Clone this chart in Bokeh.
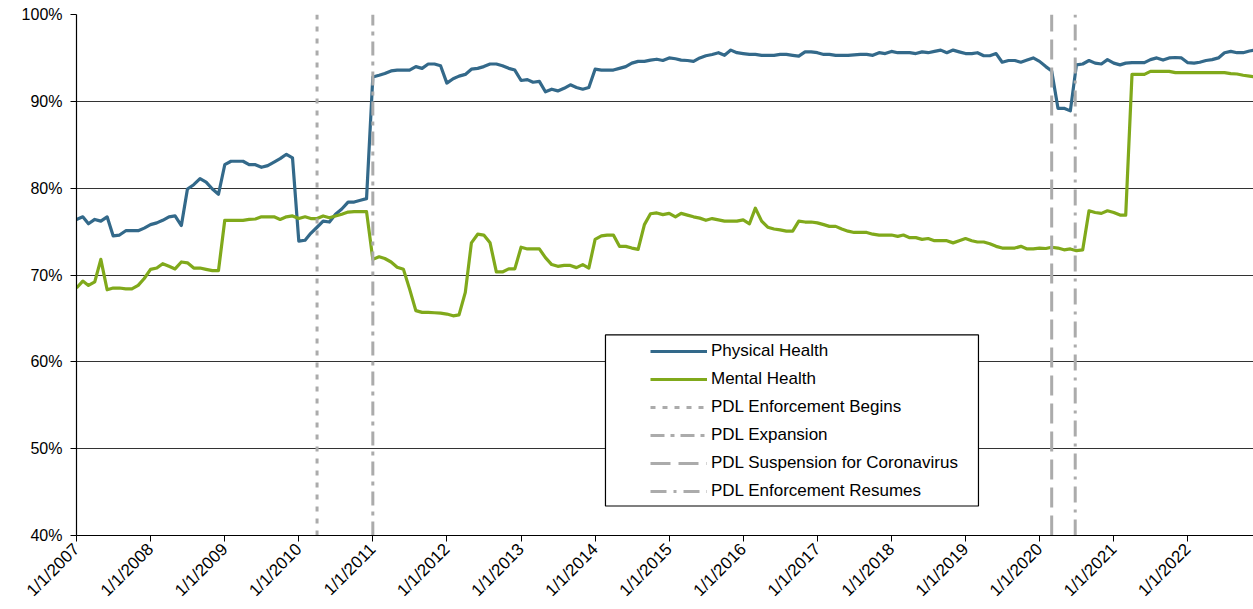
import math
import pandas as pd
from bokeh.plotting import figure
from bokeh.models import (Range1d, FixedTicker, CustomJSTickFormatter, PrintfTickFormatter,
                          Legend, LegendItem, BoxAnnotation)
from bokeh.embed import file_html
from bokeh.resources import INLINE

# ---------------- data (monthly, starting Jan 2007) ----------------
start_month = "2007-01-01"

physical_health = [
    76.4, 76.7, 75.9, 76.4, 76.2, 76.7, 74.5, 74.6, 75.1, 75.1, 75.1, 75.4,   # 2007
    75.8, 76.0, 76.3, 76.7, 76.8, 75.7, 79.9, 80.4, 81.1, 80.7, 79.9, 79.3,   # 2008
    82.7, 83.1, 83.1, 83.1, 82.7, 82.7, 82.4, 82.6, 83.0, 83.4, 83.9, 83.5,   # 2009
    73.9, 74.0, 74.8, 75.5, 76.2, 76.1, 77.0, 77.6, 78.4, 78.4, 78.6, 78.8,   # 2010
    92.8, 93.0, 93.2, 93.5, 93.6, 93.6, 93.6, 94.0, 93.8, 94.3, 94.3, 94.1,   # 2011
    92.1, 92.6, 92.9, 93.1, 93.7, 93.8, 94.0, 94.3, 94.3, 94.1, 93.8, 93.6,   # 2012
    92.4, 92.5, 92.2, 92.3, 91.1, 91.4, 91.2, 91.5, 91.9, 91.6, 91.4, 91.6,   # 2013
    93.7, 93.6, 93.6, 93.6, 93.8, 94.0, 94.4, 94.6, 94.6, 94.75, 94.85, 94.7, # 2014
    95.0, 94.9, 94.75, 94.7, 94.6, 95.0, 95.25, 95.4, 95.6, 95.3, 95.9, 95.6, # 2015
    95.5, 95.4, 95.4, 95.3, 95.3, 95.3, 95.4, 95.4, 95.3, 95.2, 95.7, 95.7,   # 2016
    95.6, 95.4, 95.4, 95.3, 95.3, 95.3, 95.35, 95.4, 95.4, 95.3, 95.6, 95.5,  # 2017
    95.75, 95.6, 95.6, 95.6, 95.5, 95.7, 95.6, 95.75, 95.9, 95.6, 95.9, 95.7, # 2018
    95.5, 95.5, 95.6, 95.25, 95.25, 95.5, 94.5, 94.7, 94.7, 94.5, 94.75, 95.0, # 2019
    94.6, 94.0, 93.5, 89.2, 89.2, 88.9, 94.2, 94.3, 94.7, 94.4, 94.3, 94.8,   # 2020
    94.4, 94.2, 94.4, 94.45, 94.45, 94.45, 94.8, 95.0, 94.75, 95.0, 95.05, 95.0, # 2021
    94.45, 94.4, 94.5, 94.7, 94.8, 95.0, 95.6, 95.75, 95.6, 95.6, 95.8, 95.9, # 2022
]

mental_health = [
    68.5, 69.3, 68.8, 69.2, 71.8, 68.3, 68.5, 68.5, 68.4, 68.4, 68.8, 69.6,   # 2007
    70.65, 70.8, 71.3, 71.0, 70.7, 71.5, 71.4, 70.8, 70.8, 70.65, 70.5, 70.5, # 2008
    76.3, 76.3, 76.3, 76.3, 76.4, 76.45, 76.7, 76.7, 76.7, 76.4, 76.7, 76.8,  # 2009
    76.5, 76.7, 76.5, 76.5, 76.8, 76.6, 76.8, 77.0, 77.25, 77.3, 77.3, 77.3,  # 2010
    71.8, 72.1, 71.9, 71.5, 70.9, 70.65, 68.4, 65.9, 65.7, 65.7, 65.65, 65.6, # 2011
    65.5, 65.3, 65.4, 68.0, 73.7, 74.7, 74.6, 73.7, 70.35, 70.35, 70.7, 70.7, # 2012
    73.2, 73.0, 73.0, 73.0, 72.0, 71.2, 71.0, 71.1, 71.1, 70.85, 71.2, 70.8,  # 2013
    74.1, 74.5, 74.6, 74.6, 73.3, 73.3, 73.1, 72.95, 75.8, 77.05, 77.15, 76.95, # 2014
    77.1, 76.7, 77.1, 76.9, 76.7, 76.55, 76.3, 76.5, 76.35, 76.2, 76.2, 76.2, # 2015
    76.35, 75.9, 77.7, 76.2, 75.5, 75.3, 75.2, 75.05, 75.05, 76.2, 76.1, 76.1, # 2016
    76.0, 75.8, 75.6, 75.6, 75.3, 75.05, 74.9, 74.9, 74.9, 74.7, 74.6, 74.6,  # 2017
    74.6, 74.45, 74.6, 74.3, 74.3, 74.1, 74.2, 73.95, 73.95, 73.95, 73.7, 73.95, # 2018
    74.2, 73.95, 73.8, 73.8, 73.6, 73.3, 73.1, 73.1, 73.1, 73.3, 73.0, 73.0,  # 2019
    73.1, 73.05, 73.2, 73.1, 72.9, 73.0, 72.8, 72.9, 77.4, 77.2, 77.1, 77.4,  # 2020
    77.2, 76.9, 76.9, 93.1, 93.1, 93.1, 93.45, 93.45, 93.45, 93.45, 93.3, 93.3, # 2021
    93.3, 93.3, 93.3, 93.3, 93.3, 93.3, 93.3, 93.2, 93.15, 93.0, 92.9, 92.8,  # 2022
]

tick_years = list(range(2007, 2023))
y_ticks = [40, 50, 60, 70, 80, 90, 100]

event_names = ["PDL Enforcement Begins", "PDL Expansion",
               "PDL Suspension for Coronavirus", "PDL Enforcement Resumes"]
event_dates = ["2010-04-01", "2011-01-01", "2020-03-01", "2020-06-25"]

# ---------------- styles ----------------
BLUE = "#33698A"
GREEN = "#80A91B"
GREY = "#ABABAB"
event_dashes = ["5 7", "14 6 4 6", "20 8", "16 7 3 7"]
FONT = "Liberation Sans"

def ms(d):
    return pd.Timestamp(d).timestamp() * 1000.0

months = pd.date_range(start_month, periods=len(physical_health), freq="MS")

p = figure(
    x_axis_type="datetime",
    frame_width=1177, frame_height=521,
    min_border_left=76, min_border_right=0, min_border_top=14, min_border_bottom=73,
    x_range=Range1d(ms("2007-01-01"), ms("2022-11-21")),
    y_range=Range1d(y_ticks[0], y_ticks[-1]),
    output_backend="svg", toolbar_location=None,
    background_fill_color="white", border_fill_color="white",
)
p.outline_line_color = None

# grid
p.xgrid.visible = False
p.ygrid.ticker = FixedTicker(ticks=y_ticks)
p.ygrid.grid_line_color = "#333333"
p.ygrid.grid_line_width = 1.2

# axes
p.xaxis.ticker = FixedTicker(ticks=[ms(f"{y}-01-01") for y in tick_years])
p.xaxis.formatter = CustomJSTickFormatter(code="""
    const d = new Date(tick);
    return (d.getUTCMonth() + 1) + "/" + d.getUTCDate() + "/" + d.getUTCFullYear();
""")
p.xaxis.major_label_orientation = math.pi / 4
p.yaxis.ticker = FixedTicker(ticks=y_ticks)
p.yaxis.formatter = PrintfTickFormatter(format="%d%%")
for ax in (p.xaxis, p.yaxis):
    ax.axis_line_color = "black"
    ax.axis_line_width = 1.2
    ax.major_tick_line_color = "black"
    ax.major_tick_in = 0
    ax.major_tick_out = 6
    ax.minor_tick_line_color = None
    ax.major_label_text_font = FONT
    ax.major_label_text_color = "black"
p.xaxis.major_label_text_font_size = "17px"
p.yaxis.major_label_text_font_size = "16px"
p.yaxis.major_label_standoff = 8
p.xaxis.major_label_standoff = 5

# series
r_phys = p.line(months, physical_health, line_color=BLUE, line_width=3.2, line_join="round")
r_ment = p.line(months, mental_health, line_color=GREEN, line_width=3.2, line_join="round")

# event lines
event_renderers = []
for name, d, dash in zip(event_names, event_dates, event_dashes):
    t = ms(d)
    r = p.line([t, t], [y_ticks[0], y_ticks[-1]], line_color=GREY, line_width=3,
               line_dash=dash)
    event_renderers.append(r)

# legend box
box = BoxAnnotation(left=ms("2014-02-21"), right=ms("2019-03-06"), top=63.1, bottom=43.4,
                    fill_color="white", fill_alpha=1.0, line_color="black", line_alpha=1.0,
                    line_width=1.2)
p.add_layout(box)

items = [LegendItem(label="Physical Health", renderers=[r_phys]),
         LegendItem(label="Mental Health", renderers=[r_ment])]
for name, r in zip(event_names, event_renderers):
    items.append(LegendItem(label=name, renderers=[r]))

legend = Legend(items=items, location=(574, 34), padding=0, margin=0,
                border_line_color=None, background_fill_alpha=0,
                glyph_width=57, glyph_height=20, label_height=20, spacing=8,
                label_standoff=4, label_text_font=FONT, label_text_font_size="17px",
                label_text_color="black")
p.add_layout(legend, "center")

open("out.html", "w").write(file_html(p, INLINE))
